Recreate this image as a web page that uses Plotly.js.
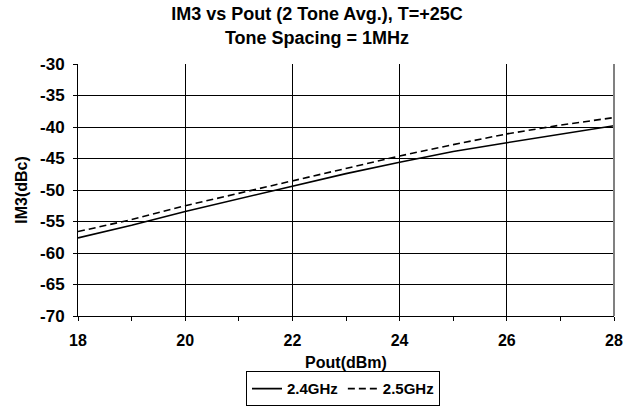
<!DOCTYPE html>
<html>
<head>
<meta charset="utf-8">
<script src="https://cdn.plot.ly/plotly-3.0.1.min.js"></script>
<style>html,body{margin:0;padding:0;background:#fff;}#chart{width:634px;height:408px;}</style>
</head>
<body>
<div id="chart"></div>
<script>
const pout = [18, 19, 20, 21, 22, 23, 24, 25, 26, 27, 28];
const im3_24GHz = [-57.6, -55.6, -53.4, -51.4, -49.4, -47.4, -45.6, -43.9, -42.5, -41.1, -39.8];
const im3_25GHz = [-56.6, -54.7, -52.5, -50.5, -48.5, -46.5, -44.6, -42.8, -41.1, -39.7, -38.5];
const seriesNames = ['2.4GHz', '2.5GHz'];
const yTicks = [-70, -65, -60, -55, -50, -45, -40, -35, -30];
const xTicks = [18, 20, 22, 24, 26, 28];

const fontFam = 'Liberation Sans, Arial, sans-serif';
const traces = [
  {x: pout, y: im3_24GHz, name: seriesNames[0], mode: 'lines', line: {color: '#000', width: 1.6}},
  {x: pout, y: im3_25GHz, name: seriesNames[1], mode: 'lines', line: {color: '#000', width: 1.6, dash: '7px,4px'}}
];
const layout = {
  width: 634, height: 408,
  margin: {l: 78, r: 20, t: 64, b: 92},
  paper_bgcolor: '#fff', plot_bgcolor: '#fff',
  font: {family: fontFam, color: '#000', size: 16, weight: 'bold'},
  title: {text: 'IM3 vs Pout (2 Tone Avg.), T=+25C<br>Tone Spacing = 1MHz', font: {size: 18, weight: 'bold', family: fontFam}, x: 0.5, xref: 'container', xanchor: 'center', y: 0.95, yref: 'container', yanchor: 'middle'},
  xaxis: {
    range: [18, 28], tickvals: xTicks, ticktext: xTicks.map(String),
    showgrid: true, gridcolor: '#000', gridwidth: 1,
    showline: true, linecolor: '#000', linewidth: 1, mirror: false,
    ticks: 'outside', ticklen: 4, tickcolor: '#000', ticklabelstandoff: 6,
    minor: {dtick: 1, ticks: 'outside', ticklen: 4, tickcolor: '#000', showgrid: false},
    tickfont: {size: 16, weight: 'bold', family: fontFam},
    zeroline: false,
    title: {text: 'Pout(dBm)', font: {size: 16, weight: 'bold', family: fontFam}, standoff: 10}
  },
  yaxis: {
    range: [-70, -30], tickvals: yTicks, ticktext: yTicks.map(String),
    showgrid: true, gridcolor: '#000', gridwidth: 1,
    showline: true, linecolor: '#000', linewidth: 1,
    ticks: 'outside', ticklen: 4, tickcolor: '#000', ticklabelstandoff: 5,
    tickfont: {size: 17, weight: 'bold', family: fontFam},
    zeroline: false,
    title: {text: 'IM3(dBc)', font: {size: 16, weight: 'bold', family: fontFam}, standoff: 8}
  },
  shapes: [
    {type: 'line', xref: 'paper', yref: 'paper', x0: 1, x1: 1, y0: 0, y1: 1, line: {color: '#808080', width: 2}}
  ],
  legend: {
    orientation: 'h', x: 0.541, xref: 'container', xanchor: 'center',
    y: 0.004, yref: 'container', yanchor: 'bottom',
    bordercolor: '#000', borderwidth: 1, bgcolor: '#fff',
    font: {size: 15, weight: 'bold', family: fontFam},
    itemwidth: 30, tracegroupgap: 0
  },
  showlegend: true
};
Plotly.newPlot('chart', traces, layout, {displayModeBar: false, staticPlot: true});
</script>
</body>
</html>
